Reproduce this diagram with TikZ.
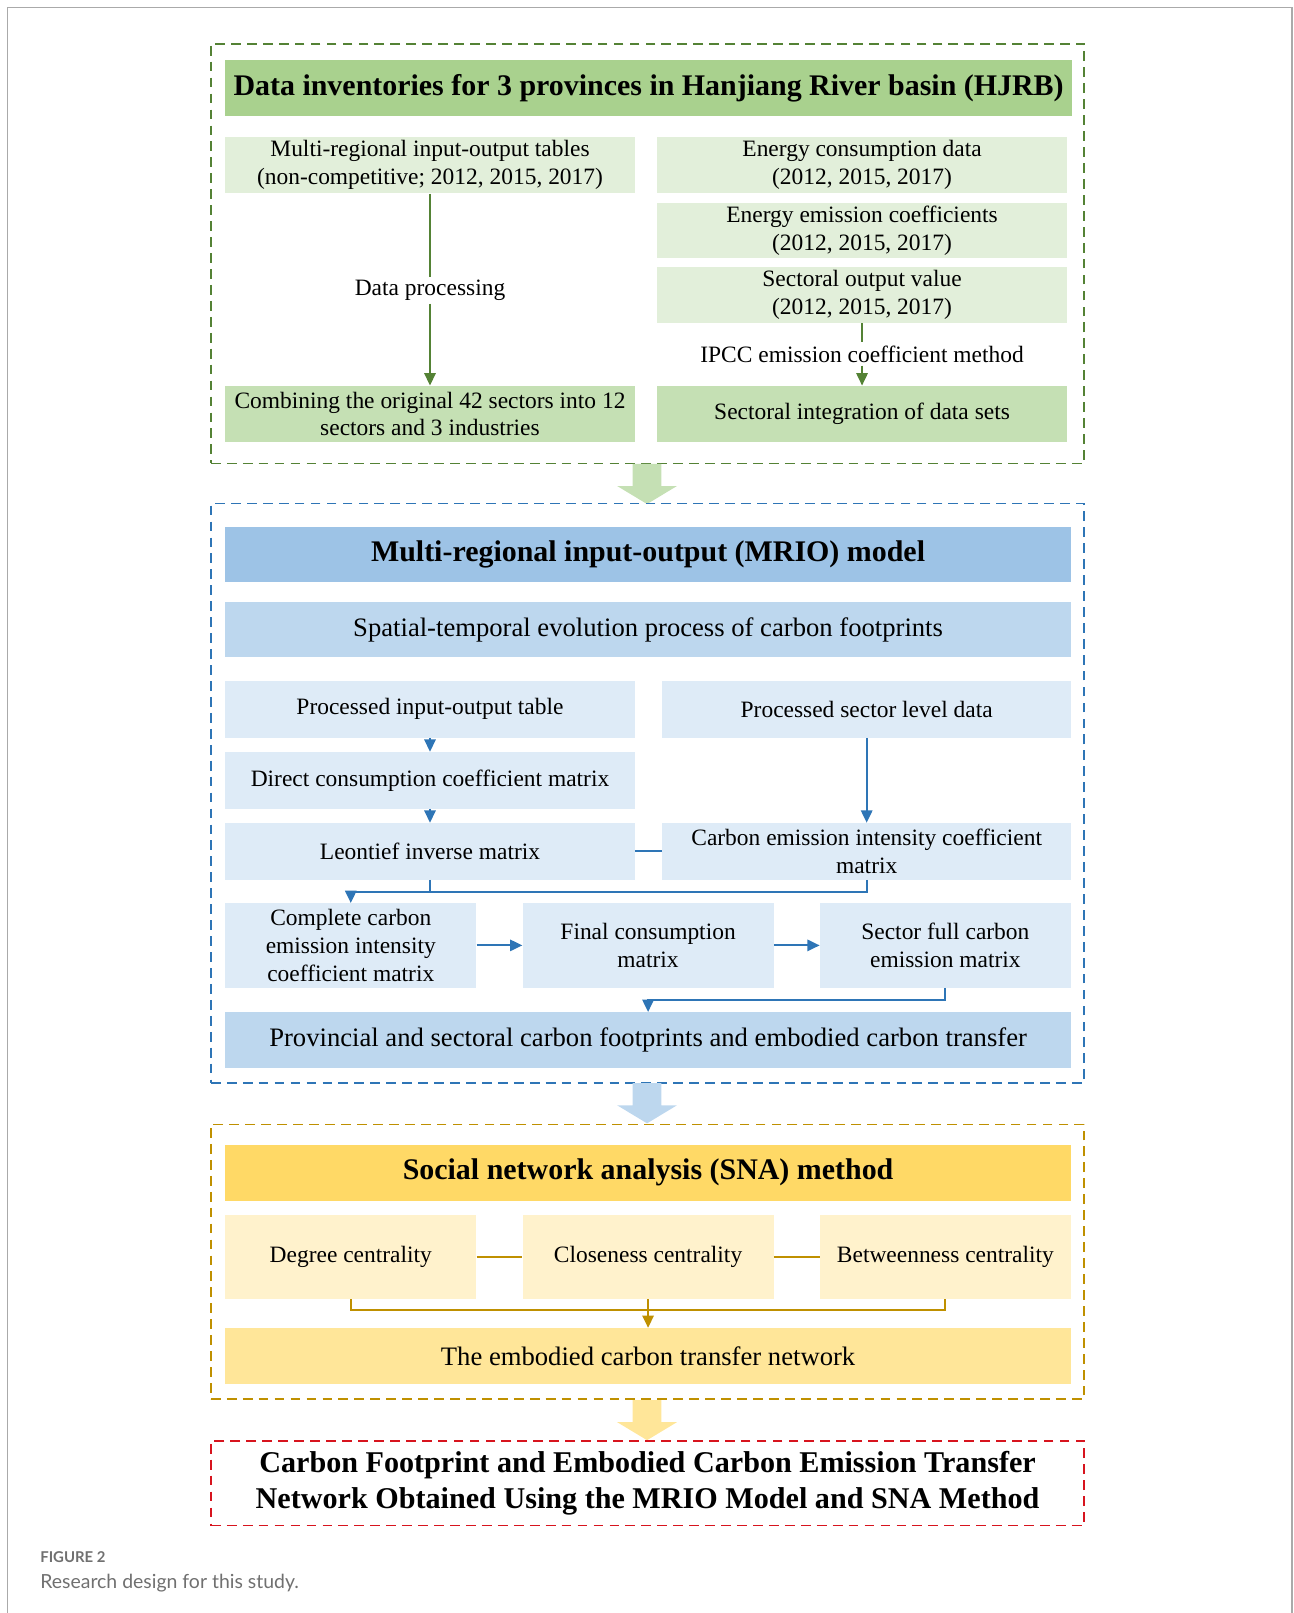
\documentclass[tikz,border=0pt]{standalone}
\usepackage{fontspec}
\setmainfont{Liberation Serif}
\newfontfamily\capfont{Lato}
\usetikzlibrary{arrows.meta,calc}
\definecolor{gtitle}{HTML}{A9D18E}
\definecolor{glight}{HTML}{E2EFDA}
\definecolor{gmid}{HTML}{C5E0B4}
\definecolor{gdark}{HTML}{548235}
\definecolor{btitle}{HTML}{9DC3E6}
\definecolor{bmid}{HTML}{BDD7EE}
\definecolor{blight}{HTML}{DEEBF7}
\definecolor{bdark}{HTML}{2E75B6}
\definecolor{ytitle}{HTML}{FFD966}
\definecolor{ylight}{HTML}{FFF2CC}
\definecolor{ymid}{HTML}{FFE699}
\definecolor{ydark}{HTML}{BF9000}
\definecolor{rdash}{RGB}{215,20,30}
\definecolor{framegray}{HTML}{AAAAAA}
\definecolor{capgray}{HTML}{707070}
\begin{document}
\begin{tikzpicture}[x=1pt,y=-1pt,
  bx/.style={rectangle,inner sep=0pt,align=center,font=\fontsize{22.8}{27}\selectfont},
  bxl/.style={bx,font=\fontsize{25.9}{30}\selectfont},
  ttl/.style={rectangle,inner sep=0pt,align=center,font=\fontsize{29.1}{34}\selectfont\bfseries},
  dbox/.style={rectangle,inner sep=0pt,line width=1.6pt,dash pattern=on 9.5pt off 6pt},
  lbl/.style={inner sep=3pt,fill=white,font=\fontsize{22.8}{27}\selectfont},
  gline/.style={draw=gdark,line width=1.8pt},
  bline/.style={draw=bdark,line width=2pt},
  yline/.style={draw=ydark,line width=2pt},
  tip/.style={-{Triangle[width=11pt,length=12pt]}},
  bigarr/.style={draw=none}
]
\useasboundingbox (0,0) rectangle (1257,1568);
% page frame
\draw[framegray,line width=1.2pt] (7,1568) -- (7,7) -- (1256,7) -- (1256,1568);

% ---------- green section ----------
\node[dbox,draw=gdark,minimum width=849pt,minimum height=408pt] (gbox) at (629.5,246.5) {};
\node[ttl,fill=gtitle,minimum width=823pt,minimum height=54pt] (gt) at (630.5,85.5) {Data inventories for 3 provinces in Hanjiang River basin (HJRB)};
\node[bx,fill=glight,minimum width=398pt,minimum height=55pt] (mrt) at (418,160.5) {Multi-regional input-output tables\\(non-competitive; 2012, 2015, 2017)};
\node[bx,fill=glight,minimum width=398pt,minimum height=55pt] (ecd) at (838,160.5) {Energy consumption data\\(2012, 2015, 2017)};
\node[bx,fill=glight,minimum width=398pt,minimum height=54pt] (eec) at (838,224) {Energy emission coefficients\\(2012, 2015, 2017)};
\node[bx,fill=glight,minimum width=398pt,minimum height=54pt] (sov) at (838,287) {Sectoral output value\\(2012, 2015, 2017)};
\node[bx,fill=gmid,minimum width=398pt,minimum height=55pt] (comb) at (418,402.5) {Combining the original 42 sectors into 12\\sectors and 3 industries};
\node[bx,fill=gmid,minimum width=398pt,minimum height=55pt] (sint) at (838,402.5) {Sectoral integration of data sets};
\node[lbl] (dp) at (418,282) {Data processing};
\node[lbl] (ipcc) at (838,344) {IPCC emission coefficient method};
\draw[gline] (mrt.south) -- (dp.north);
\draw[gline,tip] (dp.south) -- (comb.north);
\draw[gline] (sov.south) -- (ipcc.north);
\draw[gline,tip] (ipcc.south) -- (sint.north);

% big arrow green
\fill[gmid] (615,451) -- (643,451) -- (643,472.5) -- (658,472.5) -- (629,490) -- (600,472.5) -- (615,472.5) -- cycle;

% ---------- blue section ----------
\node[dbox,draw=bdark,minimum width=849pt,minimum height=563pt] (bbox) at (629.5,771) {};
\node[ttl,fill=btitle,minimum width=822pt,minimum height=54pt] (bt) at (630,539) {Multi-regional input-output (MRIO) model};
\node[bxl,fill=bmid,minimum width=822pt,minimum height=54pt] (spt) at (630,612) {Spatial-temporal evolution process of carbon footprints};
\node[bx,fill=blight,minimum width=398pt,minimum height=55pt] (piot) at (418,689.5) {Processed input-output table};
\node[bx,fill=blight,minimum width=397pt,minimum height=55pt] (psld) at (842.5,689.5) {Processed sector level data};
\node[bx,fill=blight,minimum width=398pt,minimum height=55pt] (dccm) at (418,758.5) {Direct consumption coefficient matrix};
\node[bx,fill=blight,minimum width=398pt,minimum height=55pt] (leo) at (418,827.5) {Leontief inverse matrix};
\node[bx,fill=blight,minimum width=397pt,minimum height=55pt] (cei) at (842.5,827.5) {Carbon emission intensity coefficient\\matrix};
\node[bx,fill=blight,minimum width=244pt,minimum height=82pt] (ccei) at (341,919) {Complete carbon\\emission intensity\\coefficient matrix};
\node[bx,fill=blight,minimum width=244pt,minimum height=82pt] (fcm) at (630,919) {Final consumption\\matrix};
\node[bx,fill=blight,minimum width=244pt,minimum height=82pt] (sfc) at (919,919) {Sector full carbon\\emission matrix};
\node[bxl,fill=bmid,minimum width=822pt,minimum height=54pt] (prov) at (630,1011) {Provincial and sectoral carbon footprints and embodied carbon transfer};
\draw[bline,tip] (piot.south) -- (dccm.north);
\draw[bline,tip] (dccm.south) -- (leo.north);
\draw[bline,tip] (psld.south) -- (cei.north);
\draw[bline] (leo.east) -- (cei.west);
\coordinate (j1) at (341,867);
\draw[bline] (leo.south) -- (leo.south |- j1);
\draw[bline,tip] (cei.south) -- (cei.south |- j1) -- (j1) -- (ccei.north);
\draw[bline,tip] (ccei.east) -- (fcm.west);
\draw[bline,tip] (fcm.east) -- (sfc.west);
\coordinate (j2) at (630,972);
\draw[bline,tip] (sfc.south) |- (j2) -- (prov.north);

% big arrow blue
\fill[bmid] (615,1053) -- (643,1053) -- (643,1074.5) -- (658,1074.5) -- (629,1092) -- (600,1074.5) -- (615,1074.5) -- cycle;

% ---------- yellow section ----------
\node[dbox,draw=ydark,minimum width=849pt,minimum height=267pt] (ybox) at (629.5,1226.5) {};
\node[ttl,fill=ytitle,minimum width=822pt,minimum height=54pt] (yt) at (630,1140) {Social network analysis (SNA) method};
\node[bx,fill=ylight,minimum width=244pt,minimum height=82pt] (deg) at (341,1222) {Degree centrality};
\node[bx,fill=ylight,minimum width=244pt,minimum height=82pt] (clo) at (630,1222) {Closeness centrality};
\node[bx,fill=ylight,minimum width=244pt,minimum height=82pt] (bet) at (919,1222) {Betweenness centrality};
\node[bxl,fill=ymid,minimum width=822pt,minimum height=54pt] (emb) at (630,1318) {The embodied carbon transfer network};
\draw[yline] (deg.east) -- (clo.west);
\draw[yline] (clo.east) -- (bet.west);
\coordinate (j3) at (630,1273);
\draw[yline] (deg.south) |- (bet.south |- j3) -- (bet.south);
\draw[yline,tip] (clo.south) -- (emb.north);

% big arrow yellow
\fill[ymid] (615,1361) -- (643,1361) -- (643,1382.5) -- (658,1382.5) -- (629,1400) -- (600,1382.5) -- (615,1382.5) -- cycle;

% ---------- red result ----------
\node[dbox,draw=rdash,minimum width=849pt,minimum height=82pt,align=center,font=\fontsize{29.3}{35}\selectfont\bfseries] (res) at (629.5,1442) {Carbon Footprint and Embodied Carbon Emission Transfer\\Network Obtained Using the MRIO Model and SNA Method};

% ---------- caption ----------
\node[anchor=west,inner sep=0pt,text=capgray,font=\capfont\fontsize{14.5}{17}\selectfont\bfseries] (fig) at (39,1514) {FIGURE 2};
\node[anchor=west,inner sep=0pt,text=capgray,font=\capfont\fontsize{18.9}{22}\selectfont] (cap) at (39,1539) {Research design for this study.};
\end{tikzpicture}
\end{document}
